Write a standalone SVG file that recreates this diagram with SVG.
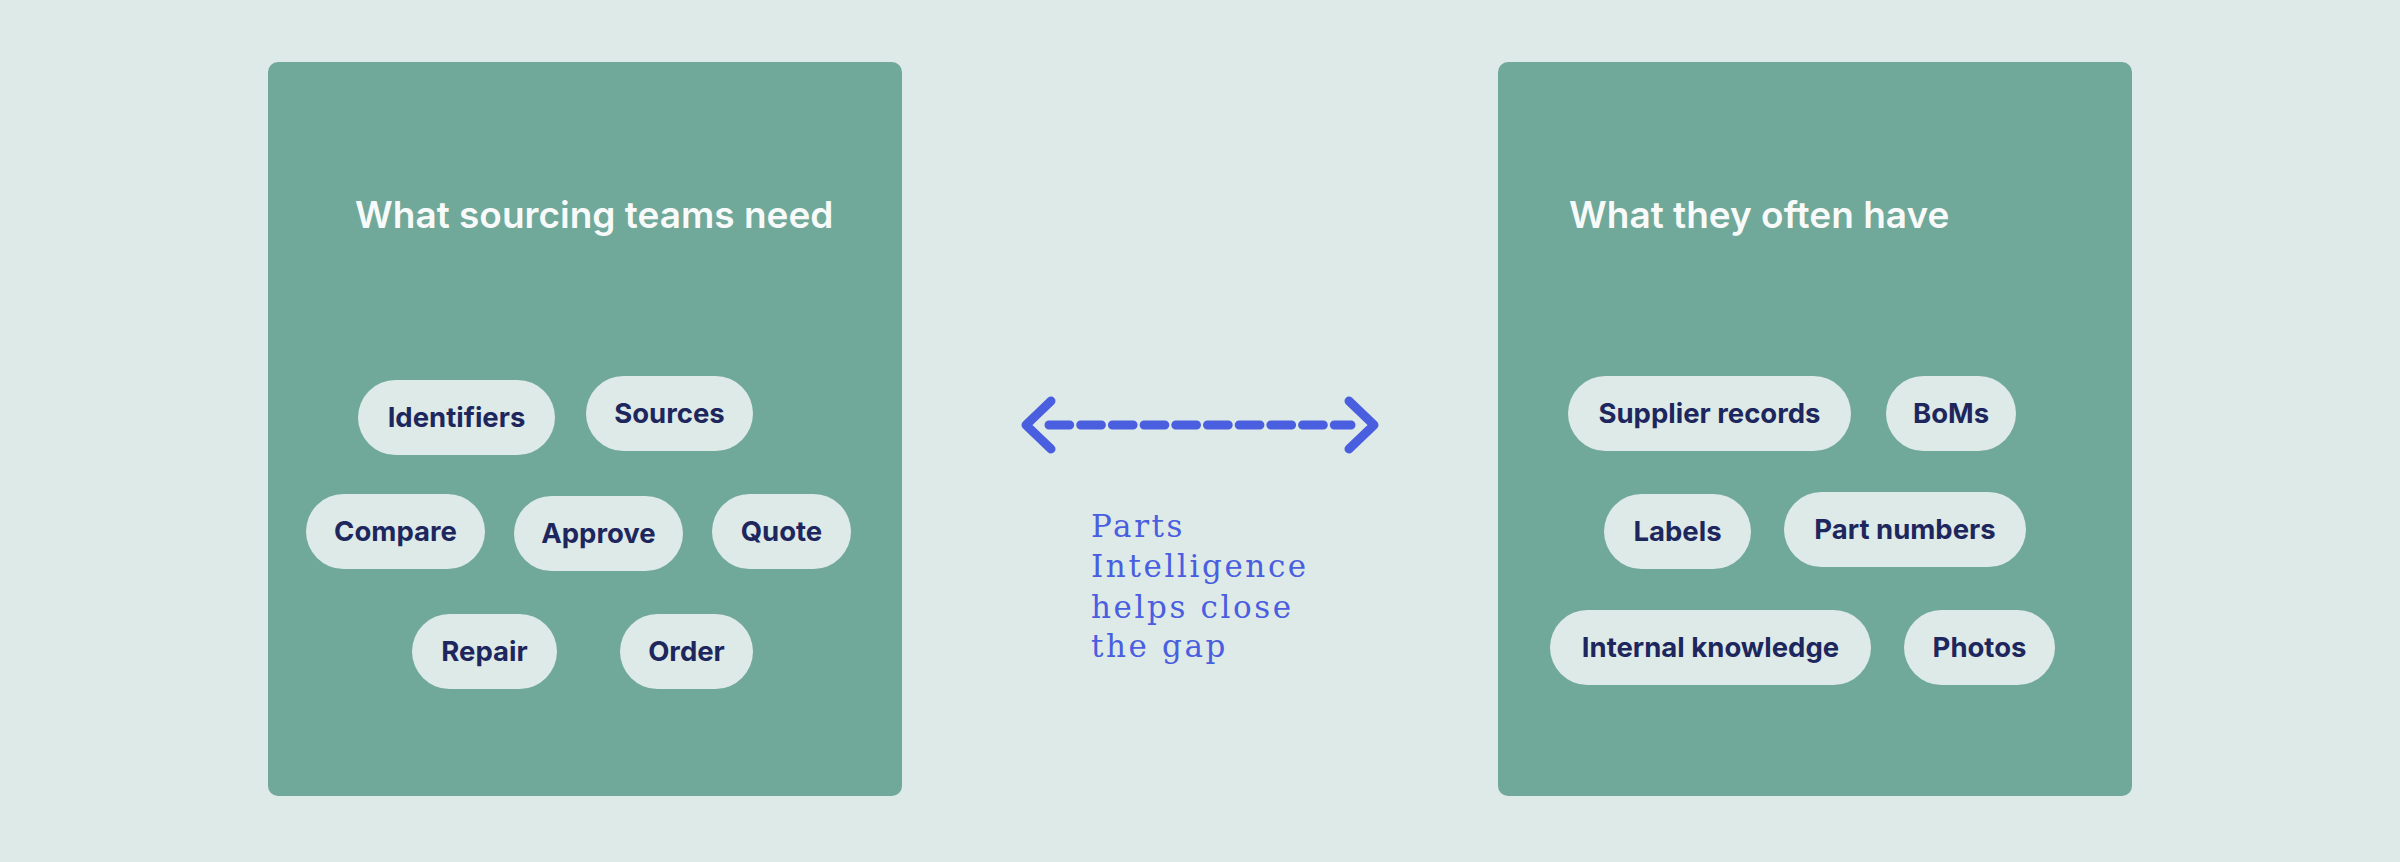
<svg xmlns="http://www.w3.org/2000/svg" width="2400" height="862" viewBox="0 0 2400 862">
  <style>
    .bg { fill: #DEEAE7; }
    .panel { fill: #70A899; }
    .pill { fill: #DEEAE7; }
    .title { font-family: Inter, "Liberation Sans", sans-serif; font-weight: 600; font-size: 37px; fill: #F7FAF9; }
    .lbl { font-family: Inter, "Liberation Sans", sans-serif; font-weight: 700; font-size: 27.5px; fill: #1D275E; text-anchor: middle; }
    .note { font-family: "DejaVu Serif", "Liberation Serif", serif; font-size: 31px; fill: #4A5EE0; letter-spacing: 2.6px; }
    .arrow { fill: none; stroke: #4A5EE0; stroke-width: 9; stroke-linecap: round; stroke-linejoin: round; }
  </style>
  <rect class="bg" x="0" y="0" width="2400" height="862"/>

  <g id="panel-need">
    <rect class="panel" x="268" y="62" width="634" height="734" rx="10"/>
    <text class="title" x="355" y="228">What sourcing teams need</text>
  </g>
  <g id="pill-identifiers"><rect class="pill" x="358" y="380" width="197" height="75" rx="37.5"/><text class="lbl" x="456.5" y="427">Identifiers</text></g>
  <g id="pill-sources"><rect class="pill" x="586" y="376" width="167" height="75" rx="37.5"/><text class="lbl" x="669.5" y="423">Sources</text></g>
  <g id="pill-compare"><rect class="pill" x="306" y="494" width="179" height="75" rx="37.5"/><text class="lbl" x="395.5" y="541">Compare</text></g>
  <g id="pill-approve"><rect class="pill" x="514" y="496" width="169" height="75" rx="37.5"/><text class="lbl" x="598.5" y="543">Approve</text></g>
  <g id="pill-quote"><rect class="pill" x="712" y="494" width="139" height="75" rx="37.5"/><text class="lbl" x="781.5" y="541">Quote</text></g>
  <g id="pill-repair"><rect class="pill" x="412" y="614" width="145" height="75" rx="37.5"/><text class="lbl" x="484.5" y="661">Repair</text></g>
  <g id="pill-order"><rect class="pill" x="620" y="614" width="133" height="75" rx="37.5"/><text class="lbl" x="686.5" y="661">Order</text></g>

  <g id="panel-have">
    <rect class="panel" x="1498" y="62" width="634" height="734" rx="10"/>
    <text class="title" x="1569" y="228">What they often have</text>
  </g>
  <g id="pill-supplier"><rect class="pill" x="1568" y="376" width="283" height="75" rx="37.5"/><text class="lbl" x="1709.5" y="423">Supplier records</text></g>
  <g id="pill-boms"><rect class="pill" x="1886" y="376" width="130" height="75" rx="37.5"/><text class="lbl" x="1951" y="423">BoMs</text></g>
  <g id="pill-labels"><rect class="pill" x="1604" y="494" width="147" height="75" rx="37.5"/><text class="lbl" x="1677.5" y="541">Labels</text></g>
  <g id="pill-partnumbers"><rect class="pill" x="1784" y="492" width="242" height="75" rx="37.5"/><text class="lbl" x="1905" y="539">Part numbers</text></g>
  <g id="pill-internal"><rect class="pill" x="1550" y="610" width="321" height="75" rx="37.5"/><text class="lbl" x="1710.5" y="657">Internal knowledge</text></g>
  <g id="pill-photos"><rect class="pill" x="1904" y="610" width="151" height="75" rx="37.5"/><text class="lbl" x="1979.5" y="657">Photos</text></g>

  <g id="connectors">
    <line class="arrow" x1="1049" y1="425" x2="1351" y2="425" stroke-linecap="butt" stroke-dasharray="20.7 11"/>
    <polyline class="arrow" points="1051,401 1026,425 1051,449"/>
    <polyline class="arrow" points="1349,401 1374,425 1349,449"/>
  </g>

  <g id="gap-note">
    <text class="note" x="1091" y="537">Parts</text>
    <text class="note" x="1091" y="577">Intelligence</text>
    <text class="note" x="1091" y="618">helps close</text>
    <text class="note" x="1091" y="657">the gap</text>
  </g>
</svg>
